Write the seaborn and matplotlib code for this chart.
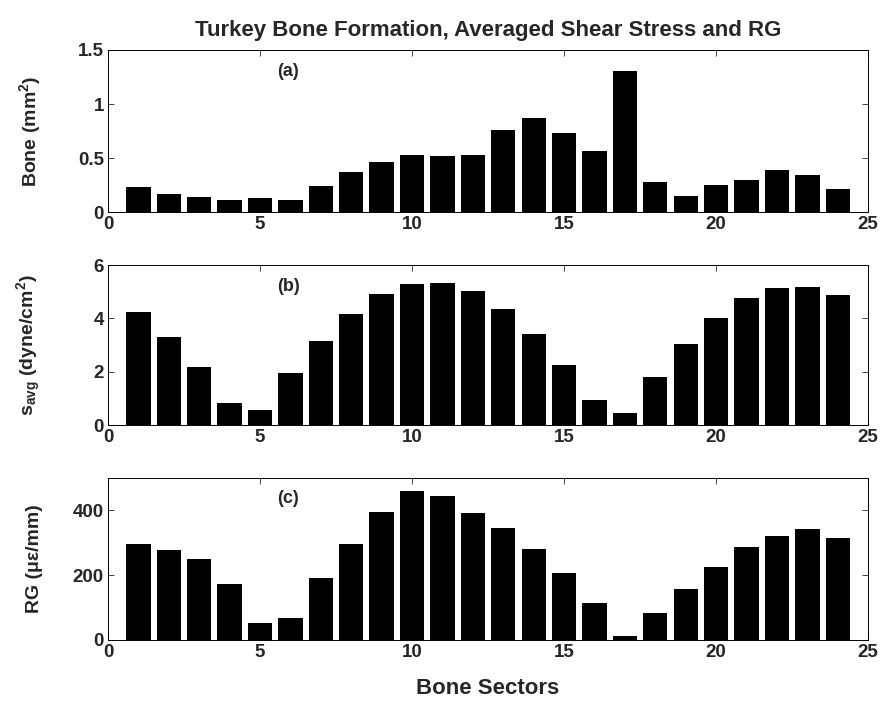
import matplotlib
matplotlib.use("Agg")
import matplotlib.pyplot as plt
import seaborn as sns
import pandas as pd

sectors = list(range(1, 25))
bone = [0.236, 0.165, 0.143, 0.112, 0.130, 0.112, 0.245, 0.373, 0.469, 0.531, 0.519, 0.528,
        0.764, 0.870, 0.730, 0.565, 1.304, 0.280, 0.149, 0.252, 0.301, 0.391, 0.342, 0.217]
savg = [4.26, 3.32, 2.19, 0.845, 0.56, 1.94, 3.14, 4.16, 4.91, 5.28, 5.33, 5.04,
        4.37, 3.43, 2.27, 0.93, 0.45, 1.80, 3.03, 4.01, 4.75, 5.13, 5.17, 4.87]
rg = [297, 278, 251, 172, 53, 68, 190, 297, 396, 461, 445, 393,
      346, 282, 205, 114, 12, 83, 156, 224, 288, 321, 343, 316]

title = "Turkey Bone Formation, Averaged Shear Stress and RG"
ylabels = [r"Bone (mm$^2$)", r"s$_{avg}$ (dyne/cm$^2$)", "RG (\u03bc\u03b5/mm)"]
panel_tags = ["(a)", "(b)", "(c)"]
xlabel = "Bone Sectors"
xticks = [0, 5, 10, 15, 20, 25]
yticks = [[0, 0.5, 1, 1.5], [0, 2, 4, 6], [0, 200, 400]]
yticklabels = [["0", "0.5", "1", "1.5"], ["0", "2", "4", "6"], ["0", "200", "400"]]
ylims = [(0, 1.5), (0, 6), (0, 500)]

sns.set_theme(style="ticks")
plt.rcParams["font.family"] = ["Liberation Sans", "DejaVu Sans"]
plt.rcParams["font.weight"] = "bold"
plt.rcParams["mathtext.fontset"] = "custom"
plt.rcParams["mathtext.rm"] = "Liberation Sans:bold"
plt.rcParams["mathtext.it"] = "Liberation Sans:bold"
plt.rcParams["mathtext.bf"] = "Liberation Sans:bold"
plt.rcParams["mathtext.default"] = "regular"

fig = plt.figure(figsize=(8.85, 7.03), dpi=100)
positions = [[0.122, 0.698, 0.859, 0.231],
             [0.122, 0.395, 0.859, 0.228],
             [0.122, 0.090, 0.859, 0.230]]
tag_y = [0.865, 0.865, 0.876]

for i, vals in enumerate([bone, savg, rg]):
    ax = fig.add_axes(positions[i])
    df = pd.DataFrame({"sector": sectors, "value": vals})
    sns.barplot(data=df, x="sector", y="value", native_scale=True, color="black",
                width=0.8, saturation=1, edgecolor="black", linewidth=0, ax=ax, errorbar=None)
    ax.set_xlim(0, 25)
    ax.set_ylim(*ylims[i])
    ax.set_xticks(xticks)
    ax.set_xticklabels([str(t) for t in xticks], fontsize=13.5, fontweight="bold")
    ax.set_yticks(yticks[i])
    ax.set_yticklabels(yticklabels[i], fontsize=13.5, fontweight="bold")
    ax.tick_params(direction="in", length=4, width=0.6, top=True, right=True, pad=3)
    for s in ax.spines.values():
        s.set_visible(True)
        s.set_linewidth(0.7)
        s.set_color("black")
    ax.set_ylabel(ylabels[i], fontsize=14, fontweight="bold")
    ax.yaxis.set_label_coords(-0.085, 0.5)
    ax.set_xlabel("")
    ax.text(0.237, tag_y[i], panel_tags[i], transform=ax.transAxes, ha="center", va="center",
            fontsize=13, fontweight="bold")
    if i == 0:
        ax.set_title(title, fontsize=16, fontweight="bold", pad=10)
    if i == 2:
        ax.set_xlabel(xlabel, fontsize=16, fontweight="bold", labelpad=12)

fig.savefig("out.png", dpi=100)
